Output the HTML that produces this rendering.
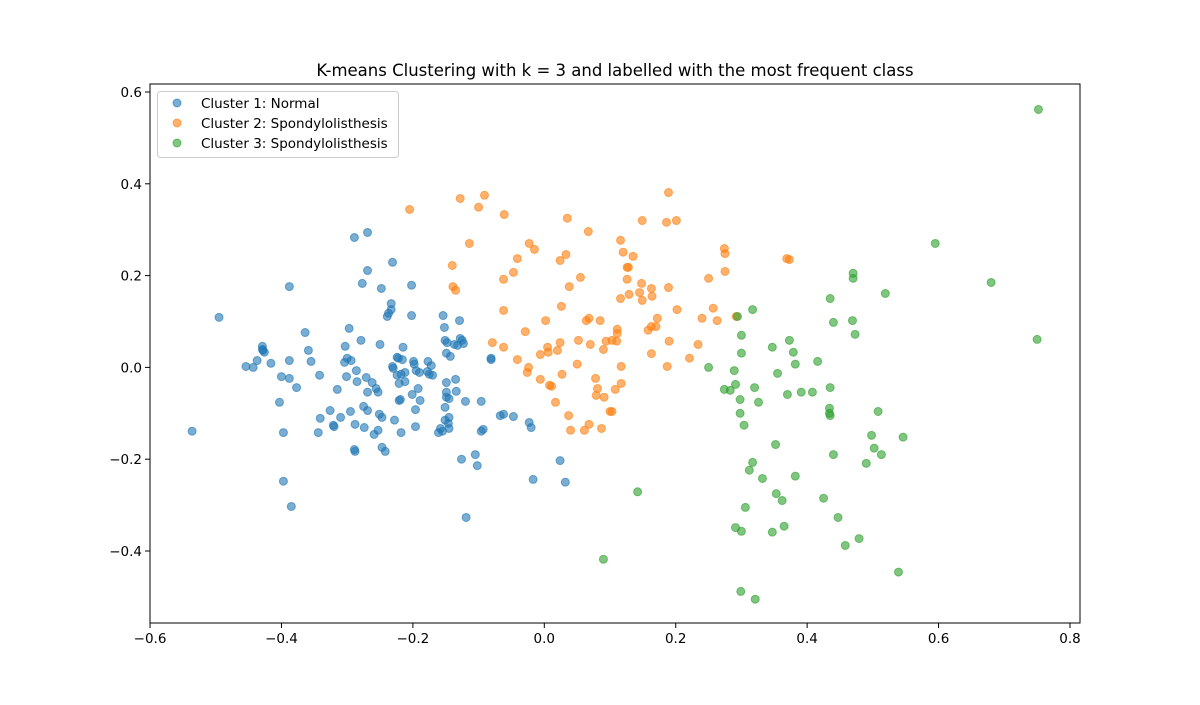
<!DOCTYPE html>
<html><head><meta charset="utf-8">
<style>
body{margin:0;background:#fff;}
svg text{font-family:"DejaVu Sans","Liberation Sans",sans-serif;}
</style></head>
<body>
<svg id="chart" width="1200" height="700" xmlns="http://www.w3.org/2000/svg">
<rect width="1200" height="700" fill="#fff"/>
<text x="615" y="76" font-size="16.5" text-anchor="middle" fill="#000">K-means Clustering with k = 3 and labelled with the most frequent class</text>
<g id="points"></g>
<g id="axes"></g>
<g>
<rect x="157.5" y="91.5" width="241" height="66" rx="3" fill="#fff" fill-opacity="0.8" stroke="#ccc"/>
<circle cx="177" cy="103" r="4" fill="#1f77b4" fill-opacity="0.6" stroke="#1f77b4" stroke-opacity="0.6"/>
<text x="201" y="108" font-size="13.5">Cluster 1: Normal</text>
<circle cx="177" cy="123" r="4" fill="#ff7f0e" fill-opacity="0.6" stroke="#ff7f0e" stroke-opacity="0.6"/>
<text x="201" y="128" font-size="13.5">Cluster 2: Spondylolisthesis</text>
<circle cx="177" cy="143" r="4" fill="#2ca02c" fill-opacity="0.6" stroke="#2ca02c" stroke-opacity="0.6"/>
<text x="201" y="148" font-size="13.5">Cluster 3: Spondylolisthesis</text>
</g>
</svg>
<script>
const xTicks=[-0.6,-0.4,-0.2,0.0,0.2,0.4,0.6,0.8];
const xTickLabels=["−0.6","−0.4","−0.2","0.0","0.2","0.4","0.6","0.8"];
const yTicks=[-0.4,-0.2,0.0,0.2,0.4,0.6];
const yTickLabels=["−0.4","−0.2","0.0","0.2","0.4","0.6"];
const cluster1=[[-0.495,0.109],[-0.536,-0.139],[-0.454,0.002],[-0.443,0],[-0.429,0.039],[-0.429,0.046],[-0.437,0.015],[-0.428,0.037],[-0.426,0.033],[-0.416,0.009],[-0.400,-0.020],[-0.388,-0.024],[-0.377,-0.044],[-0.388,0.015],[-0.397,-0.142],[-0.397,-0.248],[-0.385,-0.303],[-0.403,-0.076],[-0.388,0.176],[-0.364,0.076],[-0.355,0.013],[-0.359,0.037],[-0.342,-0.017],[-0.341,-0.111],[-0.344,-0.142],[-0.326,-0.094],[-0.321,-0.126],[-0.320,-0.129],[-0.315,-0.048],[-0.310,-0.109],[-0.304,0.011],[-0.303,0.046],[-0.301,-0.020],[-0.300,0.020],[-0.297,0.085],[-0.295,-0.096],[-0.294,0.015],[-0.289,0.283],[-0.289,-0.179],[-0.288,-0.183],[-0.288,-0.124],[-0.286,-0.007],[-0.285,-0.031],[-0.279,0.059],[-0.277,0.183],[-0.275,-0.085],[-0.274,-0.131],[-0.271,-0.022],[-0.269,-0.094],[-0.269,-0.054],[-0.269,0.211],[-0.269,0.294],[-0.262,-0.033],[-0.259,-0.146],[-0.256,-0.046],[-0.253,-0.137],[-0.253,-0.054],[-0.251,-0.102],[-0.250,0.050],[-0.248,0.172],[-0.247,-0.109],[-0.247,-0.174],[-0.242,-0.183],[-0.239,0.111],[-0.237,0.118],[-0.233,0.139],[-0.233,0.126],[-0.231,0.002],[-0.231,0.229],[-0.230,-0.002],[-0.228,-0.115],[-0.224,-0.017],[-0.224,0.022],[-0.222,0.020],[-0.221,-0.072],[-0.221,-0.035],[-0.219,-0.070],[-0.218,-0.015],[-0.218,-0.142],[-0.216,0.017],[-0.215,0.044],[-0.212,-0.011],[-0.212,-0.031],[-0.202,0.113],[-0.201,-0.059],[-0.199,0.013],[-0.198,0.007],[-0.196,-0.129],[-0.196,-0.092],[-0.195,-0.007],[-0.192,-0.046],[-0.190,-0.011],[-0.189,-0.072],[-0.202,0.179],[-0.178,-0.009],[-0.177,0.013],[-0.175,-0.015],[-0.172,0.004],[-0.170,-0.017],[-0.161,-0.142],[-0.158,-0.133],[-0.155,-0.139],[-0.154,0.113],[-0.152,0.087],[-0.151,-0.087],[-0.151,-0.115],[-0.151,0.059],[-0.149,-0.033],[-0.149,-0.054],[-0.149,-0.065],[-0.149,0.031],[-0.148,0.054],[-0.146,-0.122],[-0.145,-0.133],[-0.145,-0.109],[-0.145,-0.068],[-0.143,0.024],[-0.137,0.050],[-0.135,-0.026],[-0.134,-0.052],[-0.132,0.048],[-0.129,0.102],[-0.128,0.063],[-0.126,-0.200],[-0.125,0.059],[-0.123,0.052],[-0.120,-0.074],[-0.119,-0.327],[-0.105,-0.190],[-0.102,-0.214],[-0.096,-0.139],[-0.096,-0.074],[-0.093,-0.135],[-0.081,0.020],[-0.081,0.017],[-0.067,-0.105],[-0.062,-0.102],[-0.047,-0.107],[-0.023,-0.120],[-0.020,-0.131],[-0.017,-0.244],[0.024,-0.203],[0.032,-0.250]];
const cluster2=[[-0.205,0.344],[-0.128,0.368],[-0.100,0.349],[-0.091,0.375],[-0.114,0.270],[-0.140,0.222],[-0.139,0.176],[-0.135,0.168],[-0.061,0.333],[-0.079,0.054],[-0.062,0.044],[-0.062,0.192],[-0.062,0.124],[-0.047,0.207],[-0.041,0.237],[-0.041,0.017],[-0.023,0.270],[-0.015,0.257],[-0.029,0.078],[-0.026,-0.011],[-0.024,0.000],[-0.006,-0.026],[-0.006,0.028],[0.002,0.102],[0.005,0.044],[0.006,0.033],[0.008,-0.039],[0.011,-0.041],[0.017,-0.076],[0.020,0.037],[0.024,0.233],[0.026,0.133],[0.033,0.246],[0.035,0.325],[0.038,0.176],[0.037,-0.105],[0.040,-0.137],[0.024,0.054],[0.027,-0.015],[0.052,0.059],[0.055,0.196],[0.050,0.007],[0.061,-0.137],[0.064,0.102],[0.067,0.296],[0.068,0.107],[0.070,0.050],[0.068,-0.124],[0.078,-0.024],[0.079,-0.061],[0.081,-0.046],[0.085,0.102],[0.087,-0.133],[0.090,0.039],[0.091,-0.065],[0.094,0.057],[0.100,-0.096],[0.103,-0.096],[0.103,0.059],[0.108,-0.048],[0.110,0.057],[0.111,0.083],[0.111,0.074],[0.116,0.277],[0.116,0.150],[0.117,-0.035],[0.117,0.002],[0.120,0.251],[0.126,0.218],[0.128,0.218],[0.126,0.192],[0.129,0.159],[0.135,0.242],[0.145,0.163],[0.149,0.146],[0.149,0.320],[0.148,0.183],[0.158,0.081],[0.163,0.089],[0.163,0.030],[0.163,0.172],[0.164,0.155],[0.170,0.089],[0.172,0.107],[0.186,0.316],[0.189,0.381],[0.189,0.174],[0.187,0.002],[0.190,0.057],[0.201,0.320],[0.202,0.126],[0.221,0.020],[0.234,0.050],[0.240,0.107],[0.250,0.194],[0.257,0.129],[0.263,0.102],[0.274,0.259],[0.275,0.248],[0.275,0.209],[0.292,0.111],[0.369,0.237],[0.373,0.235]];
const cluster3=[[0.090,-0.418],[0.142,-0.271],[0.250,0.000],[0.274,-0.048],[0.283,-0.050],[0.289,-0.007],[0.291,-0.037],[0.291,-0.349],[0.294,0.111],[0.298,-0.070],[0.298,-0.100],[0.300,-0.357],[0.300,0.031],[0.300,0.070],[0.304,-0.126],[0.306,-0.305],[0.312,-0.224],[0.317,0.126],[0.317,-0.207],[0.320,-0.044],[0.326,-0.076],[0.299,-0.488],[0.321,-0.505],[0.332,-0.242],[0.347,0.044],[0.355,-0.013],[0.352,-0.168],[0.353,-0.275],[0.362,-0.290],[0.347,-0.359],[0.365,-0.346],[0.370,-0.059],[0.373,0.059],[0.379,0.033],[0.382,0.007],[0.382,-0.237],[0.391,-0.054],[0.408,-0.054],[0.416,0.013],[0.425,-0.285],[0.434,-0.089],[0.434,-0.100],[0.435,0.150],[0.435,-0.044],[0.435,-0.105],[0.440,0.098],[0.440,-0.190],[0.447,-0.327],[0.458,-0.388],[0.469,0.102],[0.470,0.205],[0.470,0.194],[0.473,0.072],[0.479,-0.373],[0.490,-0.209],[0.498,-0.148],[0.502,-0.176],[0.508,-0.096],[0.513,-0.190],[0.519,0.161],[0.539,-0.446],[0.546,-0.152],[0.595,0.270],[0.680,0.185],[0.752,0.562],[0.750,0.061]];
const seriesNames=["cluster-1","cluster-2","cluster-3"];
const seriesColors=["#1f77b4","#ff7f0e","#2ca02c"];

const NS="http://www.w3.org/2000/svg";
const L=150,R=1080,T=84,B=623;
function xs(v){return 544.3+v*657.1;}
function ys(v){return 367.4-v*459;}
function mk(tag,attrs,parent){const e=document.createElementNS(NS,tag);for(const k in attrs)e.setAttribute(k,attrs[k]);parent.appendChild(e);return e;}

const pg=document.getElementById('points');
[cluster1,cluster2,cluster3].forEach((arr,si)=>{
  arr.forEach((p,i)=>{
    const c=mk('circle',{cx:xs(p[0]),cy:ys(p[1]),r:4,fill:seriesColors[si],'fill-opacity':0.6,stroke:seriesColors[si],'stroke-opacity':0.6,'stroke-width':1},pg);
    
    
  });
});

const ax=document.getElementById('axes');
const frame=mk('rect',{x:L,y:T,width:R-L,height:B-T,fill:'none',stroke:'#000','stroke-width':1},ax);


xTicks.forEach((v,i)=>{
  const x=xs(v);
  const t=mk('line',{x1:x,x2:x,y1:B,y2:B+5,stroke:'#000'},ax);
  
  
  const lb=mk('text',{x:x,y:B+20,'font-size':13.5,'text-anchor':'middle'},ax);
  lb.textContent=xTickLabels[i];
  
  
});
yTicks.forEach((v,i)=>{
  const y=ys(v);
  const t=mk('line',{x1:L-5,x2:L,y1:y,y2:y,stroke:'#000'},ax);
  
  
  const lb=mk('text',{x:L-8,y:y+5,'font-size':13.5,'text-anchor':'end'},ax);
  lb.textContent=yTickLabels[i];
  
  
});
</script>
</body></html>
